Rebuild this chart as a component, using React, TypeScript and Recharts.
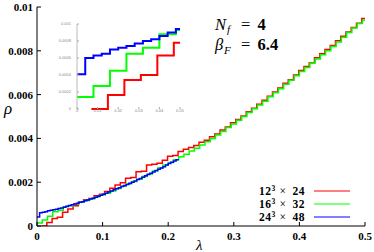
import React from 'react';
import { LineChart, Line, XAxis, YAxis } from 'recharts';

const SERIF = '"Liberation Serif", "Times New Roman", serif';
const SANS = '"Liberation Sans", Arial, sans-serif';

// ---- data: histogram bin edges (lambda) and spectral density values (rho) ----
const blueLambda = [0, 0.004, 0.008, 0.012, 0.016, 0.02, 0.024, 0.028, 0.032, 0.036, 0.04, 0.044, 0.048, 0.052, 0.056, 0.06, 0.064, 0.068, 0.072, 0.076, 0.08, 0.084, 0.088, 0.092, 0.096, 0.1, 0.104, 0.108, 0.112, 0.116, 0.12, 0.124, 0.128, 0.132, 0.136, 0.14, 0.144, 0.148, 0.152, 0.156, 0.16, 0.164, 0.168, 0.172, 0.176, 0.18, 0.184, 0.188, 0.192, 0.196, 0.2, 0.204, 0.208, 0.212, 0.216];
const blueRho = [0.00041, 0.0006, 0.00063, 0.00065, 0.0007, 0.00072, 0.00074, 0.00077, 0.0008, 0.00082, 0.00086, 0.0009, 0.00094, 0.00097, 0.001, 0.00104, 0.00108, 0.00111, 0.00115, 0.00119, 0.00123, 0.00127, 0.00131, 0.00136, 0.0014, 0.00145, 0.0015, 0.00155, 0.0016, 0.00165, 0.0017, 0.00175, 0.0018, 0.00185, 0.0019, 0.00195, 0.002, 0.00206, 0.00212, 0.00217, 0.00223, 0.00229, 0.00235, 0.00241, 0.00247, 0.00253, 0.00259, 0.00265, 0.00271, 0.00278, 0.00285, 0.00291, 0.00297, 0.00303];

const greenLambda = [0, 0.008, 0.016, 0.024, 0.032, 0.04, 0.048, 0.056, 0.064, 0.072, 0.08, 0.088, 0.096, 0.104, 0.112, 0.12, 0.128, 0.136, 0.144, 0.152, 0.16, 0.168, 0.176, 0.184, 0.192, 0.2, 0.208, 0.216, 0.224, 0.232, 0.24, 0.248, 0.256, 0.264, 0.272, 0.28, 0.288, 0.296, 0.304, 0.312, 0.32, 0.328, 0.336, 0.344, 0.352, 0.36, 0.368, 0.376, 0.384, 0.392, 0.4, 0.408, 0.416, 0.424, 0.432, 0.44, 0.448, 0.456, 0.464, 0.472, 0.48, 0.488, 0.496, 0.5];
const greenRho = [0.00014, 0.00027, 0.00045, 0.00065, 0.00072, 0.00088, 0.00093, 0.001, 0.00108, 0.00116, 0.00125, 0.00133, 0.00141, 0.0015, 0.0016, 0.00171, 0.00181, 0.00192, 0.00203, 0.00214, 0.00226, 0.00238, 0.00251, 0.00265, 0.00278, 0.0029, 0.00303, 0.00316, 0.00328, 0.00342, 0.00355, 0.0037, 0.00385, 0.004, 0.00416, 0.00432, 0.0045, 0.00466, 0.00483, 0.005, 0.00518, 0.00535, 0.00553, 0.0057, 0.0059, 0.00608, 0.00627, 0.00647, 0.00666, 0.00686, 0.00705, 0.00724, 0.00744, 0.00763, 0.00782, 0.008, 0.0082, 0.0084, 0.00862, 0.00883, 0.00904, 0.00925, 0.0094];

const redLambda = [0.007, 0.015, 0.023, 0.031, 0.039, 0.047, 0.055, 0.063, 0.071, 0.079, 0.087, 0.095, 0.103, 0.111, 0.119, 0.127, 0.135, 0.143, 0.151, 0.159, 0.167, 0.175, 0.183, 0.191, 0.199, 0.207, 0.215, 0.223, 0.231, 0.239, 0.247, 0.255, 0.263, 0.271, 0.279, 0.287, 0.295, 0.303, 0.311, 0.319, 0.327, 0.335, 0.343, 0.351, 0.359, 0.367, 0.375, 0.383, 0.391, 0.399, 0.407, 0.415, 0.423, 0.431, 0.439, 0.447, 0.455, 0.463, 0.471, 0.479, 0.487, 0.495, 0.5];
const redRho = [0, 0.000165, 0.00034, 0.0004, 0.00063, 0.00078, 0.00092, 0.00108, 0.0012, 0.00126, 0.00138, 0.00145, 0.00158, 0.00172, 0.00187, 0.00198, 0.00218, 0.00222, 0.00248, 0.0025, 0.00279, 0.00282, 0.00287, 0.003, 0.00318, 0.00322, 0.0034, 0.0035, 0.00358, 0.00368, 0.00382, 0.00392, 0.00408, 0.0042, 0.00438, 0.00452, 0.00472, 0.00486, 0.00502, 0.00522, 0.00538, 0.00556, 0.00574, 0.00592, 0.00612, 0.0063, 0.00652, 0.00668, 0.0069, 0.0071, 0.00728, 0.00746, 0.00768, 0.00786, 0.00806, 0.00824, 0.00846, 0.00866, 0.00886, 0.00906, 0.00926, 0.00948];

const seriesNames = ['12', '16', '24'];
const seriesTimes = ['24', '32', '48'];
const seriesColors = ['#ff0000', '#00ff00', '#0000ff'];

const xTicks = [0, 0.1, 0.2, 0.3, 0.4, 0.5];
const yTicks = [0, 0.002, 0.004, 0.006, 0.008, 0.01];
const insetXTicks = [0, 0.01, 0.02, 0.03, 0.04, 0.05];
const insetYTicks = [0, 0.0002, 0.0004, 0.0006, 0.0008, 0.001];

type Pt = { x: number; y: number };
function steps(edges: number[], vals: number[], maxX = Infinity): Pt[] {
  const pts: Pt[] = [];
  for (let i = 0; i < vals.length; i++) {
    if (edges[i] >= maxX) break;
    pts.push({ x: edges[i], y: vals[i] });
  }
  const last = pts[pts.length - 1];
  pts.push({ x: Math.min(edges[pts.length], maxX), y: last.y });
  return pts;
}

const redPts = steps(redLambda, redRho);
const greenPts = steps(greenLambda, greenRho);
const bluePts = steps(blueLambda, blueRho);
const redInset = steps(redLambda, redRho, 0.05);
const greenInset = steps(greenLambda, greenRho, 0.05);
const blueInset = steps(blueLambda, blueRho, 0.05);

const mainTick = { fill: '#000', fontSize: 11, fontWeight: 'bold', fontFamily: SERIF };
const insetTick = { fill: '#888', fontSize: 4, fontFamily: SANS };

export default function App() {
  return (
    <div style={{ position: 'absolute', left: 0, top: 0, width: 374, height: 252, background: '#fff' }}>
      <LineChart width={374} height={252} margin={{ top: 7, right: 9, bottom: 0, left: 0 }}>
        <XAxis dataKey="x" type="number" domain={[0, 0.5]} ticks={xTicks} height={26}
          tickSize={-4} tickMargin={10} axisLine={{ stroke: '#000' }} tickLine={{ stroke: '#000' }}
          tick={mainTick} tickFormatter={(v: number) => String(v)} allowDataOverflow />
        <XAxis xAxisId="top" orientation="top" dataKey="x" type="number" domain={[0, 0.5]} ticks={xTicks}
          height={0} tickSize={-4} axisLine={{ stroke: '#000' }} tickLine={{ stroke: '#000' }}
          tick={false} allowDataOverflow />
        <YAxis type="number" domain={[0, 0.01]} ticks={yTicks} width={37}
          tickSize={-4} tickMargin={8} axisLine={{ stroke: '#000' }} tickLine={{ stroke: '#000' }}
          tick={mainTick} tickFormatter={(v: number) => String(v)} allowDataOverflow />
        <YAxis yAxisId="right" orientation="right" type="number" domain={[0, 0.01]} ticks={yTicks} width={0}
          tickSize={-4} axisLine={{ stroke: '#000' }} tickLine={{ stroke: '#000' }} tick={false} allowDataOverflow />
        <Line data={redPts} dataKey="y" type="stepAfter" stroke={seriesColors[0]} strokeWidth={1.5} dot={false} isAnimationActive={false} />
        <Line data={greenPts} dataKey="y" type="stepAfter" stroke={seriesColors[1]} strokeWidth={1.5} dot={false} isAnimationActive={false} />
        <Line data={bluePts} dataKey="y" type="stepAfter" stroke={seriesColors[2]} strokeWidth={1.5} dot={false} isAnimationActive={false} />
      </LineChart>

      <div style={{ position: 'absolute', left: 40, top: 14 }}>
        <LineChart width={150} height={110} margin={{ top: 10, right: 10, bottom: 0, left: 0 }}>
          <XAxis dataKey="x" type="number" domain={[0, 0.05]} ticks={insetXTicks} height={15}
            tickSize={-2} tickMargin={2} axisLine={false} tickLine={{ stroke: '#aaa' }}
            tick={insetTick} tickFormatter={(v: number) => String(v)} />
          <XAxis xAxisId="top" orientation="top" dataKey="x" type="number" domain={[0, 0.05]} ticks={insetXTicks}
            height={0} tickSize={-2} axisLine={false} tickLine={{ stroke: '#aaa' }} tick={false} />
          <YAxis type="number" domain={[0, 0.001]} ticks={insetYTicks} width={37}
            tickSize={-2} tickMargin={8} axisLine={{ stroke: '#bbb' }} tickLine={{ stroke: '#aaa' }}
            tick={insetTick} tickFormatter={(v: number) => String(v)} />
          <YAxis yAxisId="right" orientation="right" type="number" domain={[0, 0.001]} ticks={insetYTicks} width={0}
            tickSize={-2} axisLine={false} tickLine={{ stroke: '#aaa' }} tick={false} />
          <Line data={redInset} dataKey="y" type="stepAfter" stroke={seriesColors[0]} strokeWidth={2} dot={false} isAnimationActive={false} />
          <Line data={greenInset} dataKey="y" type="stepAfter" stroke={seriesColors[1]} strokeWidth={2} dot={false} isAnimationActive={false} />
          <Line data={blueInset} dataKey="y" type="stepAfter" stroke={seriesColors[2]} strokeWidth={2} dot={false} isAnimationActive={false} />
        </LineChart>
      </div>

      <svg width={374} height={252} style={{ position: 'absolute', left: 0, top: 0, pointerEvents: 'none' }}>
        <text x={4} y={114} fontFamily={SERIF} fontStyle="italic" fontSize={17}>ρ</text>
        <text x={196} y={250} fontFamily={SERIF} fontStyle="italic" fontSize={15}>λ</text>

        <text x={215} y={29.5} fontFamily={SERIF} fontStyle="italic" fontSize={16.5}>N</text>
        <text x={227} y={33} fontFamily={SERIF} fontStyle="italic" fontSize={11}>f</text>
        <text x={241} y={29.5} fontFamily={SERIF} fontSize={16.5}>=</text>
        <text x={257.5} y={29.5} fontFamily={SERIF} fontWeight="bold" fontSize={16.5}>4</text>

        <text x={215} y={50} fontFamily={SERIF} fontStyle="italic" fontSize={16.5}>β</text>
        <text x={224} y={54} fontFamily={SERIF} fontStyle="italic" fontSize={11}>F</text>
        <text x={241} y={50} fontFamily={SERIF} fontSize={16.5}>=</text>
        <text x={257.5} y={50} fontFamily={SERIF} fontWeight="bold" fontSize={16.5}>6.4</text>

        {seriesNames.map((n, i) => {
          const y = 195 + i * 13;
          return (
            <g key={n}>
              <text x={259} y={y} fontFamily={SERIF} fontWeight="bold" fontSize={11.5} letterSpacing={0.6}>{n}</text>
              <text x={271.5} y={y - 4.5} fontFamily={SERIF} fontWeight="bold" fontSize={7.5}>3</text>
              <text x={279.5} y={y} fontFamily={SERIF} fontSize={11.5}>×</text>
              <text x={292.5} y={y} fontFamily={SERIF} fontWeight="bold" fontSize={11.5} letterSpacing={0.6}>{seriesTimes[i]}</text>
              <line x1={314} x2={350} y1={191 + i * 13} y2={191 + i * 13} stroke={seriesColors[i]} strokeWidth={1.2} />
            </g>
          );
        })}
      </svg>
    </div>
  );
}
